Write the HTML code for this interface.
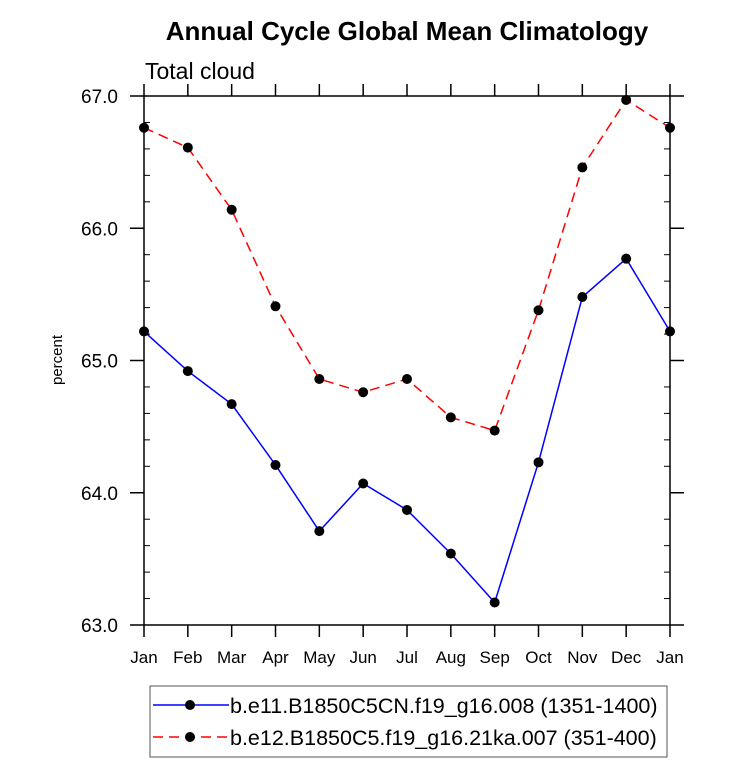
<!DOCTYPE html>
<html><head><meta charset="utf-8"><style>
body{margin:0;background:#fff;}
svg{display:block;font-family:"Liberation Sans",sans-serif;}
</style></head><body>
<svg id="c" width="733" height="761">
<text x="407" y="40" text-anchor="middle" font-size="26" font-weight="bold">Annual Cycle Global Mean Climatology</text>
<text x="145" y="79" font-size="23">Total cloud</text>
<text transform="translate(62,360) rotate(-90)" text-anchor="middle" font-size="15">percent</text>
<g id="axes"></g><g id="series"></g>
<g>
<rect x="150" y="686" width="517" height="71" fill="none" stroke="#555" stroke-width="1"/>
<g>
<line x1="153" y1="705" x2="229" y2="705" stroke="#00f" stroke-width="1.5"/>
<circle cx="190" cy="705" r="5" fill="#000"/>
<text x="230" y="713" font-size="21.5">b.e11.B1850C5CN.f19_g16.008 (1351-1400)</text></g>
<g>
<line x1="153" y1="737" x2="229" y2="737" stroke="#f00" stroke-width="1.5" stroke-dasharray="10,6"/>
<circle cx="190" cy="737" r="5" fill="#000"/>
<text x="230" y="745" font-size="21.5">b.e12.B1850C5.f19_g16.21ka.007 (351-400)</text></g>
</g>
</svg>
<script>
const months=["Jan","Feb","Mar","Apr","May","Jun","Jul","Aug","Sep","Oct","Nov","Dec","Jan"];
const blueVals=[65.22,64.92,64.67,64.21,63.71,64.07,63.87,63.54,63.17,64.23,65.48,65.77,65.22];
const redVals=[66.76,66.61,66.14,65.41,64.86,64.76,64.86,64.57,64.47,65.38,66.46,66.97,66.76];
const yTicks=[63,64,65,66,67];
const L=144,R=670,T=96,B=625,ymin=63,ymax=67;
const xs=i=>L+(R-L)*i/12, ys=v=>B-(v-ymin)/(ymax-ymin)*(B-T);
const NS="http://www.w3.org/2000/svg";
const ax=document.getElementById('axes'),se=document.getElementById('series');
function mk(tag,at,p){const e=document.createElementNS(NS,tag);for(const k in at)e.setAttribute(k,at[k]);p.appendChild(e);return e;}
const frame=mk('rect',{x:L,y:T,width:R-L,height:B-T,fill:'none',stroke:'#000','stroke-width':1.5},ax);


months.forEach((m,i)=>{const x=xs(i);
mk('line',{x1:x,y1:B,x2:x,y2:B+12,stroke:'#000','stroke-width':1.5},ax);
mk('line',{x1:x,y1:T,x2:x,y2:T-12,stroke:'#000','stroke-width':1.5},ax);
const t=mk('text',{x:x,y:B+38,'text-anchor':'middle','font-size':17},ax);t.textContent=m;

});
yTicks.forEach(v=>{const y=ys(v);
mk('line',{x1:L,y1:y,x2:L-14,y2:y,stroke:'#000','stroke-width':1.5},ax);
mk('line',{x1:R,y1:y,x2:R+14,y2:y,stroke:'#000','stroke-width':1.5},ax);
const t=mk('text',{x:L-26,y:y+7,'text-anchor':'end','font-size':19},ax);t.textContent=v.toFixed(1);

});
for(let v=63.2;v<67;v+=0.2){if(Math.abs(v-Math.round(v))<0.01)continue;const y=ys(v);
mk('line',{x1:L,y1:y,x2:L+6,y2:y,stroke:'#000','stroke-width':1},ax);
mk('line',{x1:R,y1:y,x2:R-6,y2:y,stroke:'#000','stroke-width':1},ax);}
function series(vals,color,dash,name){
const pl=mk('polyline',{points:vals.map((v,i)=>xs(i)+','+ys(v)).join(' '),fill:'none',stroke:color,'stroke-width':1.5,'stroke-dasharray':dash},se);


vals.forEach((v,i)=>{const c=mk('circle',{cx:xs(i),cy:ys(v),r:5,fill:'#000'},se);

});}
series(redVals,'#f00','10,6','red-series');
series(blueVals,'#00f','none','blue-series');
</script>
</body></html>
